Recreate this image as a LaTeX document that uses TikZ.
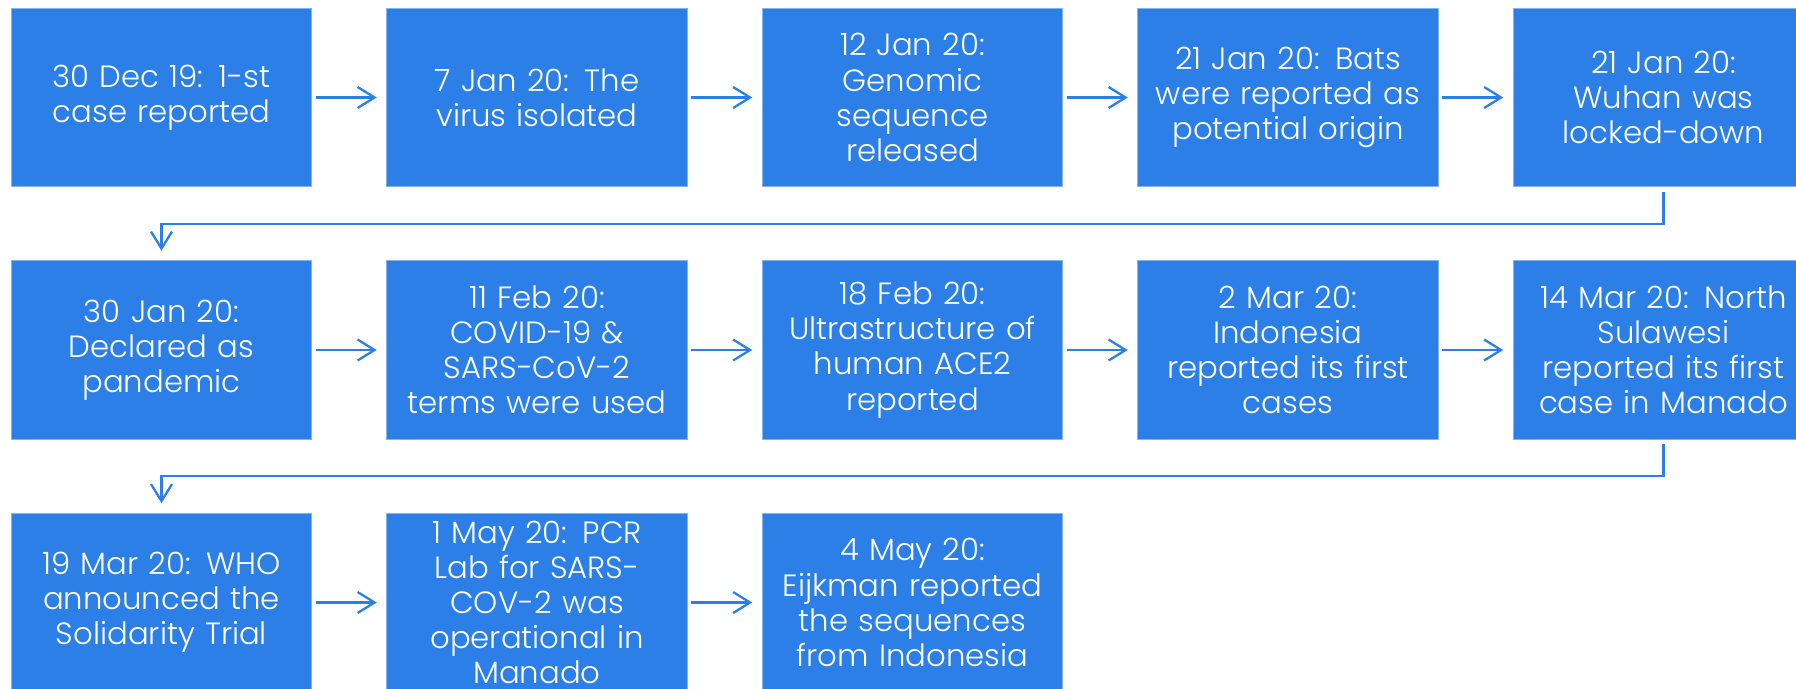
\documentclass[tikz,border=0pt]{standalone}
\usepackage{fontspec}
\setmainfont{Poppins}[UprightFont=* Light]
\usepackage{xcolor}
\usepackage{tikz}
\usetikzlibrary{positioning,arrows.meta}
\definecolor{eventblue}{RGB}{43,127,230}
\definecolor{edgeblue}{RGB}{130,180,240}

\begin{document}
\begin{tikzpicture}[eventnode/.style={rectangle, fill=eventblue, draw=edgeblue, line width=0.4pt, minimum width=6.01cm, minimum height=3.57cm, text width=5.9cm, inner sep=0pt, outer sep=0pt, align=center, text=white, font=\fontsize{17.5}{20}\selectfont},
            flowarrow/.style={draw=eventblue, line width=1.3pt, -{Straight Barb[length=0.34cm,width=0.42cm]}, shorten <=0.08cm, shorten >=0.2cm},
            node distance=1.48cm and 1.5cm]
            \useasboundingbox (0,0) rectangle (35.92,-13.76);
            %Nodes
            \node[eventnode](dec30) at (3.23,-1.95){30 Dec 19: 1-st\\case reported};
            \node[eventnode](jan7)[right= of dec30]{7 Jan 20: The\\virus isolated};
            \node[eventnode](jan12)[right= of jan7]{12 Jan 20:\\Genomic\\sequence\\released};
            \node[eventnode](bats)[right= of jan12]{21 Jan 20: Bats\\were reported as\\potential origin};
            \node[eventnode](wuhan)[right= of bats]{21 Jan 20:\\Wuhan was\\locked-down};
            \node[eventnode](jan30)[below= of dec30]{30 Jan 20:\\Declared as\\pandemic};
            \node[eventnode](feb11)[right= of jan30]{11 Feb 20:\\COVID-19 \&\\SARS-CoV-2\\terms were used};
            \node[eventnode](feb18)[right= of feb11]{18 Feb 20:\\Ultrastructure of\\human ACE2\\reported};
            \node[eventnode](mar2)[right= of feb18]{2 Mar 20:\\Indonesia\\reported its first\\cases};
            \node[eventnode](mar14)[right= of mar2]{14 Mar 20: North\\Sulawesi\\reported its first\\case in Manado};
            \node[eventnode](mar19)[below= of jan30]{19 Mar 20: WHO\\announced the\\Solidarity Trial};
            \node[eventnode](may1)[right= of mar19]{1 May 20: PCR\\Lab for SARS-\\COV-2 was\\operational in\\Manado};
            \node[eventnode](may4)[right= of may1]{4 May 20:\\Eijkman reported\\the sequences\\from Indonesia};

            %Lines
            \draw[flowarrow](dec30.east)--(jan7.west);
            \draw[flowarrow](jan7.east)--(jan12.west);
            \draw[flowarrow](jan12.east)--(bats.west);
            \draw[flowarrow](bats.east)--(wuhan.west);
            \draw[flowarrow, shorten <=0.1cm](wuhan.south)--++(0,-0.74)-|(jan30.north);
            \draw[flowarrow](jan30.east)--(feb11.west);
            \draw[flowarrow](feb11.east)--(feb18.west);
            \draw[flowarrow](feb18.east)--(mar2.west);
            \draw[flowarrow](mar2.east)--(mar14.west);
            \draw[flowarrow, shorten <=0.1cm](mar14.south)--++(0,-0.74)-|(mar19.north);
            \draw[flowarrow](mar19.east)--(may1.west);
            \draw[flowarrow](may1.east)--(may4.west);


        \end{tikzpicture}
\end{document}
